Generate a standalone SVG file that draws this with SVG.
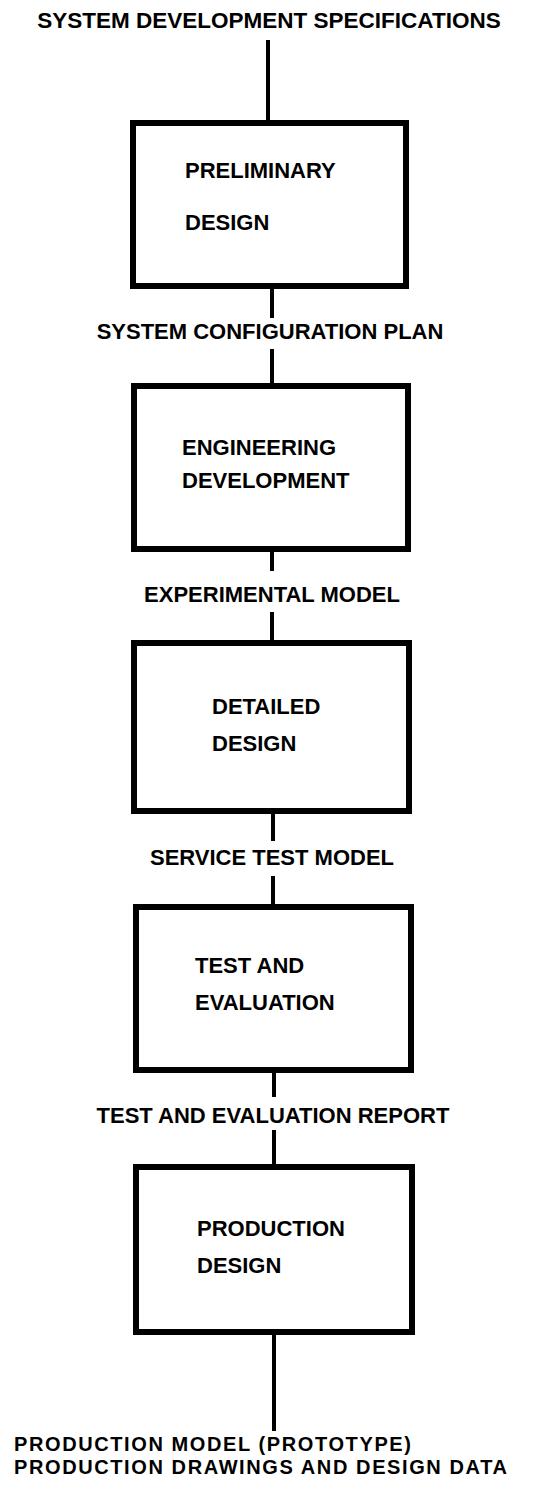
<svg xmlns="http://www.w3.org/2000/svg" width="538" height="1495" viewBox="0 0 538 1495">
<style>
.box{fill:#fff;stroke:#000;stroke-width:6}
.con{stroke:#000;stroke-width:4;fill:none}
text{font-family:"Liberation Sans",Arial,sans-serif;font-weight:bold;font-size:22px;fill:#000}
.c{text-anchor:middle}
.foot{font-size:20px;letter-spacing:1.6px}
</style>
<rect width="538" height="1495" fill="#fff"/>
<g id="connectors">
<line class="con" x1="268" y1="40" x2="268" y2="123"/>
<line class="con" x1="272" y1="286" x2="272" y2="318"/>
<line class="con" x1="272" y1="349" x2="272" y2="386"/>
<line class="con" x1="272" y1="549" x2="272" y2="571"/>
<line class="con" x1="272" y1="612" x2="272" y2="643"/>
<line class="con" x1="273" y1="811" x2="273" y2="841"/>
<line class="con" x1="273" y1="876" x2="273" y2="907"/>
<line class="con" x1="274" y1="1070" x2="274" y2="1097"/>
<line class="con" x1="274" y1="1130" x2="274" y2="1167"/>
<line class="con" x1="274" y1="1332" x2="274" y2="1431"/>
</g>
<g id="labels">
<text class="c" x="269" y="28" style="font-size:22.5px">SYSTEM DEVELOPMENT SPECIFICATIONS</text>
<text class="c" x="270" y="339">SYSTEM CONFIGURATION PLAN</text>
<text class="c" x="272" y="602">EXPERIMENTAL MODEL</text>
<text class="c" x="272" y="865">SERVICE TEST MODEL</text>
<text class="c" x="273" y="1123">TEST AND EVALUATION REPORT</text>
<text class="foot" x="14" y="1451">PRODUCTION MODEL (PROTOTYPE)</text>
<text class="foot" x="14" y="1474">PRODUCTION DRAWINGS AND DESIGN DATA</text>
</g>
<g id="preliminary-design">
<rect class="box" x="133" y="123" width="273" height="163"/>
<text x="185" y="178">PRELIMINARY</text>
<text x="185" y="230">DESIGN</text>
</g>
<g id="engineering-development">
<rect class="box" x="134" y="386" width="274" height="163"/>
<text x="182" y="455">ENGINEERING</text>
<text x="182" y="488">DEVELOPMENT</text>
</g>
<g id="detailed-design">
<rect class="box" x="134" y="643" width="275" height="168"/>
<text x="212" y="714">DETAILED</text>
<text x="212" y="751">DESIGN</text>
</g>
<g id="test-and-evaluation">
<rect class="box" x="136" y="907" width="275" height="163"/>
<text x="195" y="973">TEST AND</text>
<text x="195" y="1010">EVALUATION</text>
</g>
<g id="production-design">
<rect class="box" x="136" y="1167" width="276" height="165"/>
<text x="197" y="1236">PRODUCTION</text>
<text x="197" y="1273">DESIGN</text>
</g>
</svg>
